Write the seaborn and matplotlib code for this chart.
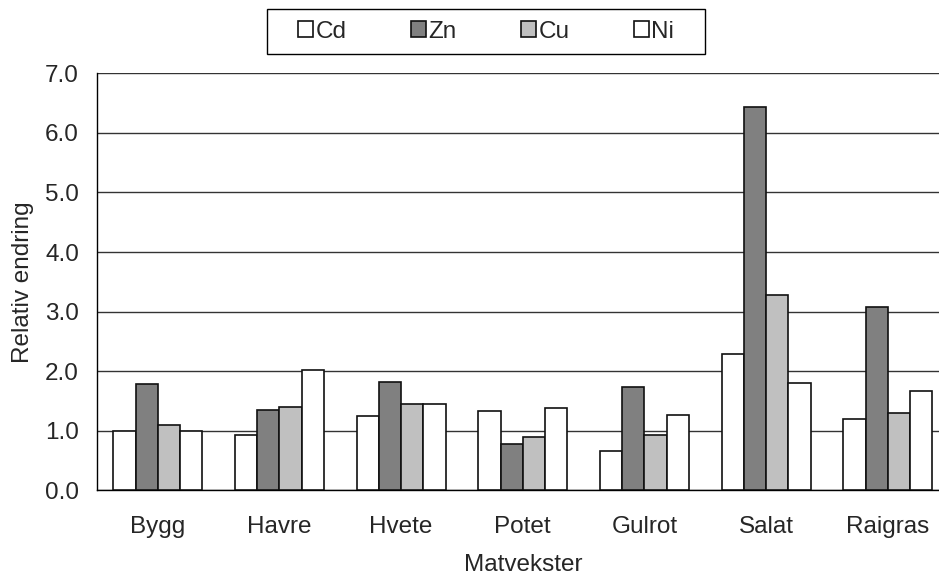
import pandas as pd
import seaborn as sns
import matplotlib.pyplot as plt
from matplotlib.patches import Rectangle

crops = ["Bygg", "Havre", "Hvete", "Potet", "Gulrot", "Salat", "Raigras"]
metals = ["Cd", "Zn", "Cu", "Ni"]
cd = [1.00, 0.92, 1.25, 1.33, 0.66, 2.28, 1.20]
zn = [1.79, 1.35, 1.82, 0.78, 1.73, 6.43, 3.08]
cu = [1.10, 1.40, 1.45, 0.90, 0.93, 3.28, 1.30]
ni = [1.00, 2.02, 1.45, 1.38, 1.26, 1.80, 1.67]

rows = []
for name, vals in zip(metals, [cd, zn, cu, ni]):
    for c, v in zip(crops, vals):
        rows.append({"Matvekster": c, "Metall": name, "Relativ endring": v})
df = pd.DataFrame(rows)

sns.set_style("white")
plt.rcParams['font.family'] = ['Liberation Sans', 'DejaVu Sans']
fs = 17.5

fig = plt.figure(figsize=(9.39, 5.76), dpi=100)
ax = fig.add_axes([97/939, 1 - 490.3/576, (948.6 - 97)/939, (490.3 - 73.3)/576])

pal = ["#FFFFFF", "#808080", "#C0C0C0", "#FFFFFF"]
sns.barplot(data=df, x="Matvekster", y="Relativ endring", hue="Metall",
            palette=pal, width=0.73, edgecolor="#111111", linewidth=1.2,
            saturation=1, ax=ax, legend=True, zorder=3)

ax.set_ylim(0, 7)
ax.set_xlim(-0.5, len(crops) - 0.5)
ax.set_yticks(range(0, 8))
ax.set_yticklabels([f"{v:.1f}" for v in range(0, 8)])
ax.yaxis.grid(True, color="#333333", linewidth=1.0, zorder=0)
ax.set_axisbelow(True)

# x ticks sit between categories, labels centred on categories
ax.set_xticks([i + 0.5 for i in range(len(crops) - 1)], minor=False)
ax.set_xticklabels([])
ax.set_xticks(range(len(crops)), minor=True)
ax.set_xticklabels(crops, minor=True)
ax.tick_params(axis="x", which="major", length=7, width=1, direction="out", colors="black")
ax.tick_params(axis="x", which="minor", length=0, pad=18.5, labelsize=fs)
ax.tick_params(axis="y", length=8, width=1, direction="out", labelsize=fs, pad=5)

for s in ["top", "right"]:
    ax.spines[s].set_visible(False)
for s in ["left", "bottom"]:
    ax.spines[s].set_color("black")
    ax.spines[s].set_linewidth(1.0)

ax.set_xlabel("Matvekster", fontsize=fs, labelpad=11.5)
ax.set_ylabel("Relativ endring", fontsize=fs, labelpad=8)

handles, labels = ax.get_legend_handles_labels()
ax.legend_.remove()
leg = fig.legend(handles, labels, loc="center", bbox_to_anchor=(486/939, 1 - 31.5/576),
                 ncol=4, frameon=False, fontsize=fs, handlelength=0.62, handleheight=0.62,
                 handletextpad=0.1, columnspacing=2.65, borderpad=0)
frame = Rectangle((267/939, 1 - 54/576), (705 - 267)/939, 45/576, transform=fig.transFigure,
                  fill=False, edgecolor="black", linewidth=1.0)
fig.add_artist(frame)

fig.savefig("out.png", dpi=100)
